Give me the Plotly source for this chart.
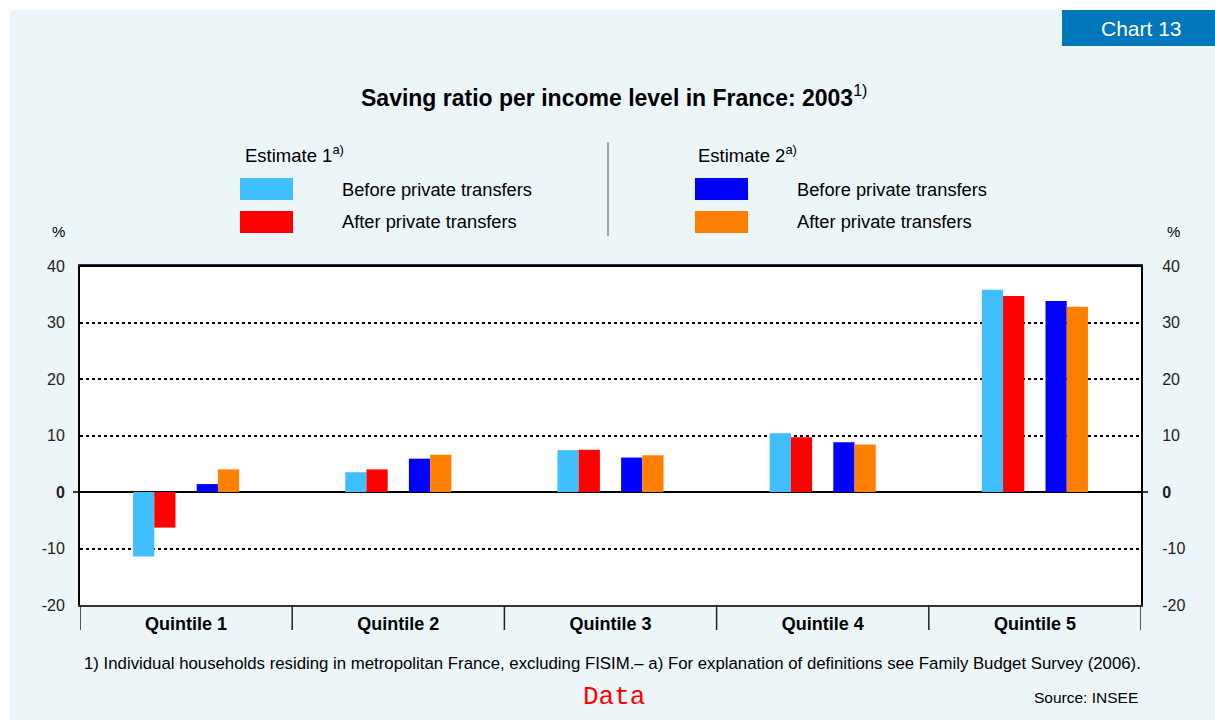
import plotly.graph_objects as go

categories = ["Quintile 1", "Quintile 2", "Quintile 3", "Quintile 4", "Quintile 5"]
est1_before = [-11.4, 3.5, 7.4, 10.4, 35.8]
est1_after = [-6.3, 4.0, 7.5, 9.7, 34.7]
est2_before = [1.4, 5.9, 6.1, 8.8, 33.8]
est2_after = [4.0, 6.6, 6.5, 8.4, 32.8]
y_ticks = [-20, -10, 0, 10, 20, 30, 40]
y_ticktext = ["-20", "-10", "<b>0</b>", "10", "20", "30", "40"]

C_LB = "#40BFFF"
C_RED = "#FF0000"
C_BLUE = "#0000FF"
C_OR = "#FF8000"
BG = "#ECF5F8"
FONT = "Liberation Sans, Arial, sans-serif"

W, H = 1215, 720
L, R, T, B = 80, 1141, 266, 605


def px(x):
    return (x - L) / (R - L)


def py(y):
    return (B - y) / (B - T)


fig = go.Figure()
series = [
    (est1_before, C_LB, -0.25, "Estimate 1 before"),
    (est1_after, C_RED, -0.15, "Estimate 1 after"),
    (est2_before, C_BLUE, 0.05, "Estimate 2 before"),
    (est2_after, C_OR, 0.15, "Estimate 2 after"),
]
for vals, col, off, name in series:
    fig.add_trace(go.Bar(x=categories, y=vals, marker=dict(color=col, line=dict(width=0)),
                         offset=off, width=0.1, name=name, showlegend=False))

# invisible trace for right axis
fig.add_trace(go.Scatter(x=categories, y=[0] * 5, yaxis="y2", mode="markers",
                         marker=dict(opacity=0), showlegend=False, hoverinfo="skip"))

shapes = []
annotations = []

# white outer strips
shapes.append(dict(type="rect", xref="paper", yref="paper", x0=px(0), x1=px(10), y0=py(0), y1=py(H),
                   fillcolor="white", line=dict(width=0), layer="below"))
shapes.append(dict(type="rect", xref="paper", yref="paper", x0=px(0), x1=px(W), y0=py(0), y1=py(10),
                   fillcolor="white", line=dict(width=0), layer="below"))
# Chart 13 box
shapes.append(dict(type="rect", xref="paper", yref="paper", x0=px(1062), x1=px(W), y0=py(10), y1=py(46),
                   fillcolor="#0077BB", line=dict(width=0), layer="below"))
annotations.append(dict(text="Chart 13", xref="paper", yref="paper", x=px(1141), y=py(28),
                        showarrow=False, font=dict(family=FONT, size=21, color="white"),
                        xanchor="center", yanchor="middle"))

# Title
annotations.append(dict(text="<b>Saving ratio per income level in France: 2003</b><sup>1)</sup>",
                        xref="paper", yref="paper", x=px(614), y=py(96), showarrow=False,
                        font=dict(family=FONT, size=23, color="black"),
                        xanchor="center", yanchor="middle"))

# Legend
leg = [
    (243, 154, "Estimate 1<sup>a)</sup>"),
    (696, 154, "Estimate 2<sup>a)</sup>"),
]
for x, y, t in leg:
    annotations.append(dict(text=t, xref="paper", yref="paper", x=px(x), y=py(y), showarrow=False,
                            font=dict(family=FONT, size=18.5, color="black"),
                            xanchor="left", yanchor="middle"))
sw = [
    (240, 178, C_LB, "Before private transfers"),
    (240, 211, C_RED, "After private transfers"),
    (695, 178, C_BLUE, "Before private transfers"),
    (695, 211, C_OR, "After private transfers"),
]
for x, y, col, t in sw:
    shapes.append(dict(type="rect", xref="paper", yref="paper", x0=px(x), x1=px(x + 53),
                       y0=py(y), y1=py(y + 22), fillcolor=col, line=dict(width=0)))
    annotations.append(dict(text=t, xref="paper", yref="paper", x=px(x + 100), y=py(y + 11),
                            showarrow=False, font=dict(family=FONT, size=18.3, color="black"),
                            xanchor="left", yanchor="middle"))
shapes.append(dict(type="line", xref="paper", yref="paper", x0=px(608), x1=px(608),
                   y0=py(142), y1=py(236), line=dict(color="#555555", width=1)))

# % labels
for x in (58, 1173):
    annotations.append(dict(text="%", xref="paper", yref="paper", x=px(x), y=py(232), showarrow=False,
                            font=dict(family=FONT, size=15, color="black"),
                            xanchor="center", yanchor="middle"))

# Category dividers below plot
for i in range(len(categories) + 1):
    shapes.append(dict(type="line", xref="x", yref="paper", x0=i - 0.5, x1=i - 0.5,
                       y0=py(605), y1=py(630), line=dict(color="#222222", width=1.5)))
# zero tick marks
shapes.append(dict(type="line", xref="paper", yref="y", x0=px(73), x1=px(80), y0=0, y1=0,
                   line=dict(color="black", width=1.5)))
shapes.append(dict(type="line", xref="paper", yref="y", x0=px(1141), x1=px(1148), y0=0, y1=0,
                   line=dict(color="black", width=1.5)))

# Footnote, data, source
annotations.append(dict(text="1) Individual households residing in metropolitan France, excluding FISIM.– a) For explanation of definitions see Family Budget Survey (2006).",
                        xref="paper", yref="paper", x=px(612), y=py(663), showarrow=False,
                        font=dict(family=FONT, size=16.8, color="black"),
                        xanchor="center", yanchor="middle"))
annotations.append(dict(text="Data", xref="paper", yref="paper", x=px(614), y=py(697), showarrow=False,
                        font=dict(family="Liberation Mono, Courier New, monospace", size=26, color="#FF0000"),
                        xanchor="center", yanchor="middle"))
annotations.append(dict(text="Source: INSEE", xref="paper", yref="paper", x=px(1140), y=py(697),
                        showarrow=False, font=dict(family=FONT, size=15.5, color="black"),
                        xanchor="right", yanchor="middle"))

yax = dict(range=[-20, 40], tickvals=y_ticks, ticktext=y_ticktext, showgrid=True,
           gridcolor="black", griddash="dot", gridwidth=1.5, zeroline=True, zerolinecolor="black",
           zerolinewidth=2, showline=True, linecolor="black", linewidth=2, ticks="",
           tickfont=dict(family=FONT, size=16, color="#222222"), fixedrange=True)

fig.update_layout(
    width=W, height=H,
    margin=dict(l=L, r=W - R, t=T, b=H - B, pad=0),
    paper_bgcolor=BG, plot_bgcolor="white",
    barmode="overlay",
    showlegend=False,
    xaxis=dict(type="category", categoryorder="array", categoryarray=categories,
               range=[-0.5, 4.5], showgrid=False, zeroline=False, showline=True, mirror=True,
               linecolor="#333333", linewidth=2, ticks="",
               tickfont=dict(family=FONT, size=18, color="black", weight="bold"),
               ticklabelstandoff=1, fixedrange=True),
    yaxis=dict(**yax, ticklabelstandoff=10, mirror=False),
    yaxis2=dict(range=[-20, 40], tickvals=y_ticks, ticktext=y_ticktext, overlaying="y", side="right",
                showgrid=False, zeroline=False, showline=True, linecolor="black", linewidth=2,
                ticks="", tickfont=dict(family=FONT, size=16, color="#222222"),
                ticklabelstandoff=16, fixedrange=True),
    shapes=shapes,
    annotations=annotations,
)
# top border
fig.add_shape(type="line", xref="paper", yref="paper", x0=0, x1=1, y0=1, y1=1,
              line=dict(color="black", width=2))

fig.write_html("out.html", config={"displayModeBar": False},
               post_script="document.body.style.margin='0';")
